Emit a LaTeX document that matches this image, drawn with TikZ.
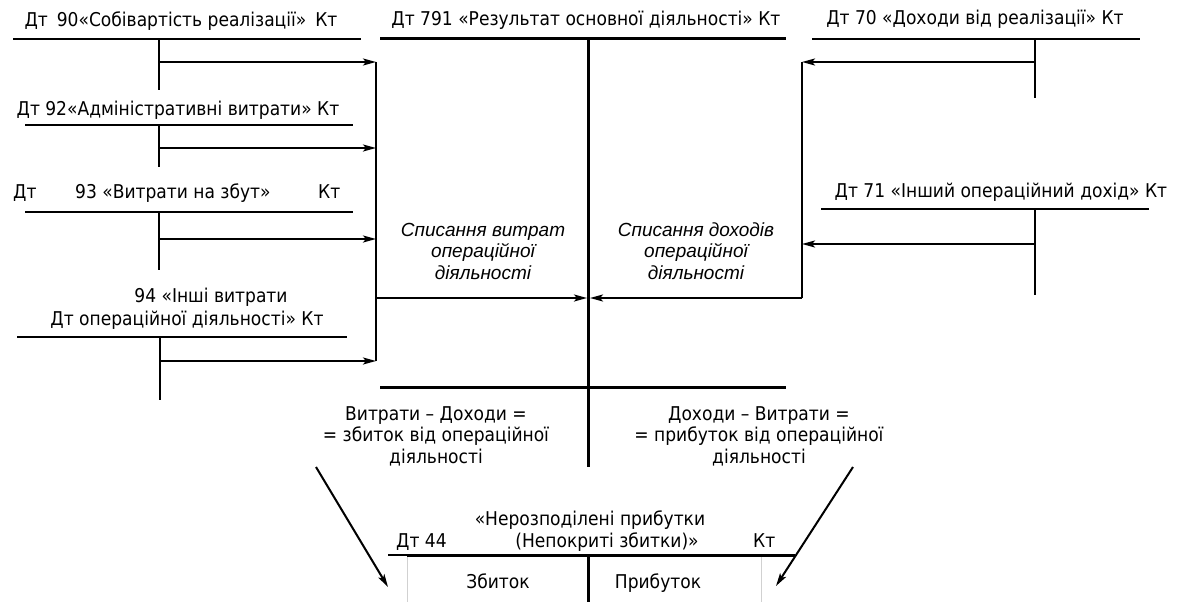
\documentclass[tikz,border=0pt]{standalone}
\usepackage{fontspec}
\setmainfont{DejaVu Sans Condensed}
\newfontfamily\itfont{Liberation Sans}[ItalicFont={* Italic}]
\usetikzlibrary{arrows.meta}

\tikzset{
  tl/.style={line width=2pt},
  mainl/.style={line width=3pt},
  arr/.style={line width=2pt, -{Stealth[length=13pt,width=7pt,inset=3pt]}},
  txt/.style={inner sep=0pt, anchor=base, font=\fontsize{19}{22}\selectfont},
  txtw/.style={txt, anchor=base west},
  itxt/.style={inner sep=0pt, align=center, font=\itfont\itshape\fontsize{19}{21.5}\selectfont},
  mtxt/.style={inner sep=0pt, align=center, font=\fontsize{19}{21.5}\selectfont},
  faint/.style={line width=1pt, draw=black!18}
}

\begin{document}
\begin{tikzpicture}[x=1pt, y=-1pt]
\useasboundingbox (0,0) rectangle (1189,602);

% ---------- account 90 ----------
\node[txt] (t90) at (181,27) {Дт\hspace{9pt}90«Собівартість реалізації»\hspace{9pt}Кт};
\coordinate (a90l) at (13,39);  \coordinate (a90r) at (361,39);
\coordinate (a90t) at (159,39); \coordinate (a90b) at (159,90);
\coordinate (a90s) at (159,62); \coordinate (c1) at (376,62);
\draw[tl] (a90l) -- (a90r);
\draw[tl] (a90t) -- (a90b);
\draw[arr] (a90s) -- (c1);

% ---------- account 92 ----------
\node[txt] (t92) at (178,115) {Дт 92«Адміністративні витрати» Кт};
\coordinate (a92l) at (25,125);  \coordinate (a92r) at (353,125);
\coordinate (a92t) at (159,125); \coordinate (a92b) at (159,167);
\coordinate (a92s) at (159,148); \coordinate (c2) at (376,148);
\draw[tl] (a92l) -- (a92r);
\draw[tl] (a92t) -- (a92b);
\draw[arr] (a92s) -- (c2);

% ---------- account 93 ----------
\node[txtw] (t93d) at (13,198) {Дт};
\node[txtw] (t93) at (75,198) {93 «Витрати на збут»};
\node[txtw] (t93k) at (318,198) {Кт};
\coordinate (a93l) at (25,212);  \coordinate (a93r) at (353,212);
\coordinate (a93t) at (159,212); \coordinate (a93b) at (159,270);
\coordinate (a93s) at (159,239); \coordinate (c3) at (376,239);
\draw[tl] (a93l) -- (a93r);
\draw[tl] (a93t) -- (a93b);
\draw[arr] (a93s) -- (c3);

% ---------- account 94 ----------
\node[txt] (t94a) at (211,302) {94 «Інші витрати};
\node[txt] (t94b) at (187,325) {Дт операційної діяльності» Кт};
\coordinate (a94l) at (17,337);  \coordinate (a94r) at (347,337);
\coordinate (a94t) at (160,337); \coordinate (a94b) at (160,400);
\coordinate (a94s) at (160,361); \coordinate (c4) at (376,361);
\draw[tl] (a94l) -- (a94r);
\draw[tl] (a94t) -- (a94b);
\draw[arr] (a94s) -- (c4);

% left collector
\coordinate (cl) at (376,298);
\coordinate (mid) at (587,298);
\draw[tl] (c1) -- (c4);
\draw[arr] (cl) -- (mid);

% ---------- account 791 ----------
\node[txt] (t791) at (586,26) {Дт 791 «Результат основної діяльності» Кт};
\coordinate (m1l) at (380,39);  \coordinate (m1r) at (786,39);
\coordinate (mt) at (588,39);   \coordinate (mb) at (588,467);
\coordinate (m2l) at (380,387); \coordinate (m2r) at (786,387);
\draw[mainl] (m1l) -- (m1r);
\draw[mainl] (mt) -- (mb);
\draw[mainl] (m2l) -- (m2r);

\node[itxt] (wl) at (483,251) {Списання витрат\\операційної\\діяльності};
\node[itxt] (wr) at (696,251) {Списання доходів\\операційної\\діяльності};

\node[mtxt] (resl) at (436,436) {Витрати – Доходи =\\= збиток від операційної\\діяльності};
\node[mtxt] (resr) at (759,436) {Доходи – Витрати =\\= прибуток від операційної\\діяльності};

% ---------- account 70 ----------
\node[txt] (t70) at (975,25) {Дт 70 «Доходи від реалізації» Кт};
\coordinate (a70l) at (812,39);  \coordinate (a70r) at (1140,39);
\coordinate (a70t) at (1035,39); \coordinate (a70b) at (1035,98);
\coordinate (a70s) at (1035,62); \coordinate (d1) at (802,62);
\draw[tl] (a70l) -- (a70r);
\draw[tl] (a70t) -- (a70b);
\draw[arr] (a70s) -- (d1);

% ---------- account 71 ----------
\node[txt] (t71) at (1001,197) {Дт 71 «Інший операційний дохід» Кт};
\coordinate (a71l) at (821,209);  \coordinate (a71r) at (1149,209);
\coordinate (a71t) at (1035,209); \coordinate (a71b) at (1035,295);
\coordinate (a71s) at (1035,244); \coordinate (d2) at (802,244);
\draw[tl] (a71l) -- (a71r);
\draw[tl] (a71t) -- (a71b);
\draw[arr] (a71s) -- (d2);

% right collector
\coordinate (dr) at (802,298);
\coordinate (midr) at (590,298);
\draw[tl] (d1) -- (dr);
\draw[arr] (dr) -- (midr);

% ---------- account 44 ----------
\node[txt] (t44a) at (590,525) {«Нерозподілені прибутки};
\node[txtw] (t44d) at (396,547) {Дт 44};
\node[txt] (t44b) at (607,547) {(Непокриті збитки)»};
\node[txtw] (t44k) at (753,547) {Кт};
\coordinate (b0) at (388,555); \coordinate (bl) at (407,555);
\coordinate (br) at (795,555);
\coordinate (bm) at (588,555); \coordinate (bmb) at (588,602);
\coordinate (glb) at (407,602); \coordinate (gr) at (761,555);
\coordinate (grb) at (761,602);
\draw[faint] (bl) -- (glb);
\draw[faint] (gr) -- (grb);
\draw[tl] (b0) -- (bl);
\draw[mainl] (bl) -- (br);
\draw[mainl] (bm) -- (bmb);
\node[txt] (loss) at (498,588) {Збиток};
\node[txt] (prof) at (658,588) {Прибуток};

% result arrows into account 44
\coordinate (sl) at (316,467); \coordinate (el) at (388,587);
\coordinate (sr) at (853,467); \coordinate (er) at (776,586);
\draw[arr] (sl) -- (el);
\draw[arr] (sr) -- (er);
\end{tikzpicture}
\end{document}
